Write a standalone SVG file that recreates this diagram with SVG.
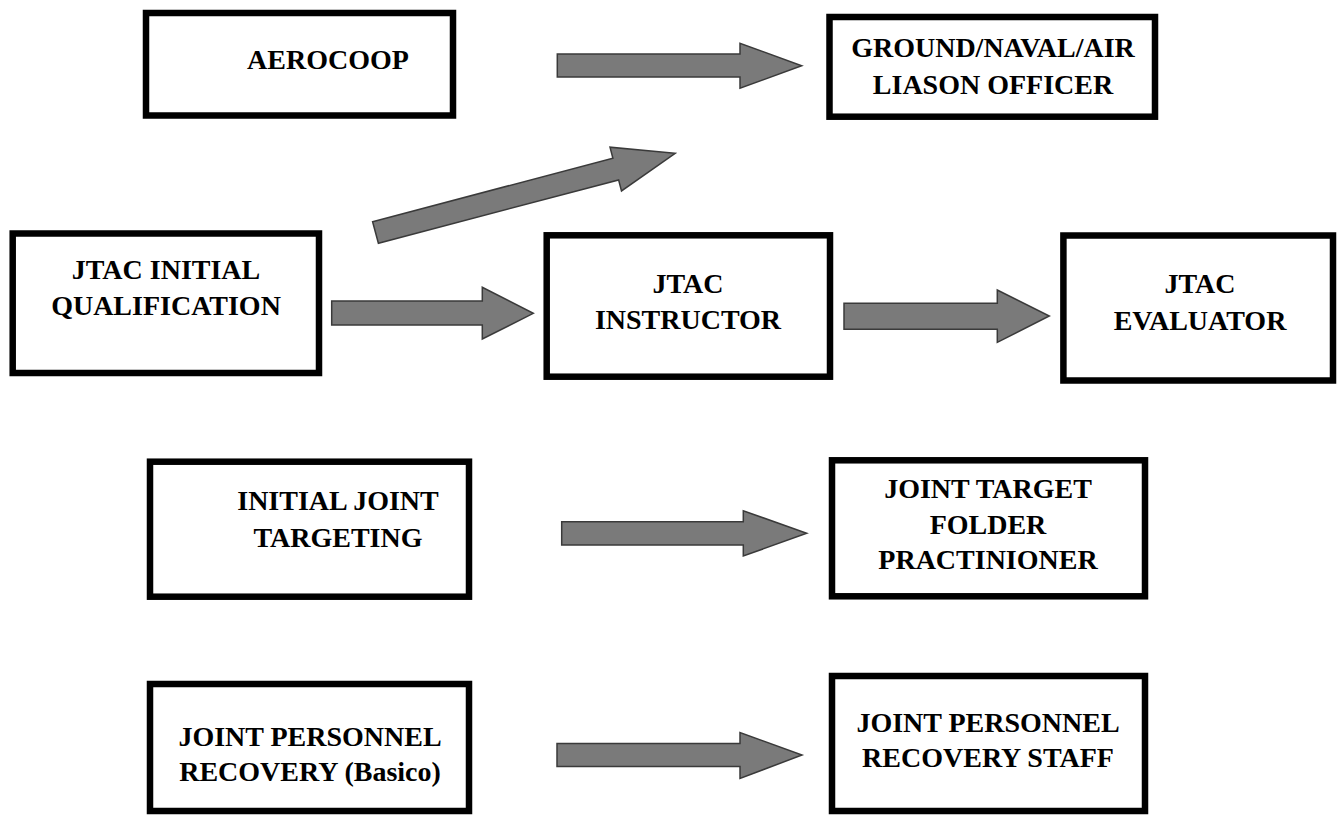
<svg xmlns="http://www.w3.org/2000/svg" width="1337" height="816" viewBox="0 0 1337 816">
<style>
.box{fill:#ffffff;stroke:#000000;stroke-width:6.5}
.arr{fill:#7a7a7a;stroke:#3a3a3a;stroke-width:1.5;stroke-linejoin:miter}
.t{font-family:"Liberation Serif","Times New Roman",serif;font-weight:bold;font-size:28px;fill:#000000;text-anchor:middle}
</style>
<rect width="1337" height="816" fill="#ffffff"/>
<g id="connectors">
<polygon class="arr" points="557.3,54 740,54 740,43.3 801.7,65.7 740,88.3 740,77 557.3,77"/>
<polygon class="arr" points="372.6,221.7 612.9,158.2 610,147.2 675.2,153.3 621.5,190.9 618.6,179.9 378.4,243.3"/>
<polygon class="arr" points="331.7,301 482.3,301 482.3,287.3 533.3,313.3 482.3,339 482.3,325 331.7,325"/>
<polygon class="arr" points="844,303.3 997.3,303.3 997.3,290 1049.3,316 997.3,342.3 997.3,329.3 844,329.3"/>
<polygon class="arr" points="561.7,521.7 743.3,521.7 743.3,510.7 806.7,533.3 743.3,556 743.3,545 561.7,545"/>
<polygon class="arr" points="557,743.5 740,743.5 740,732.5 802,755 740,778.5 740,766.5 557,766.5"/>
</g>
<g id="aerocoop">
<rect class="box" x="146" y="13" width="307" height="102.5"/>
<text class="t" x="328" y="69">AEROCOOP</text>
</g>
<g id="liaison">
<rect class="box" x="829.5" y="17" width="325.5" height="99.7"/>
<text class="t" x="993" y="57">GROUND/NAVAL/AIR</text>
<text class="t" x="993" y="94">LIASON OFFICER</text>
</g>
<g id="jtac-initial">
<rect class="box" x="12.7" y="233.5" width="306.3" height="139.5"/>
<text class="t" x="166" y="279">JTAC INITIAL</text>
<text class="t" x="166" y="315">QUALIFICATION</text>
</g>
<g id="jtac-instructor">
<rect class="box" x="546.7" y="235.3" width="283.3" height="141.4"/>
<text class="t" x="688" y="293">JTAC</text>
<text class="t" x="688" y="329">INSTRUCTOR</text>
</g>
<g id="jtac-evaluator">
<rect class="box" x="1063.4" y="235.5" width="269.6" height="145"/>
<text class="t" x="1200" y="293">JTAC</text>
<text class="t" x="1200" y="330">EVALUATOR</text>
</g>
<g id="initial-joint-targeting">
<rect class="box" x="150" y="461.7" width="319" height="135"/>
<text class="t" x="338" y="510">INITIAL JOINT</text>
<text class="t" x="338" y="547">TARGETING</text>
</g>
<g id="joint-target-folder">
<rect class="box" x="832" y="460.3" width="313" height="136"/>
<text class="t" x="988" y="498">JOINT TARGET</text>
<text class="t" x="988" y="534">FOLDER</text>
<text class="t" x="988" y="569">PRACTINIONER</text>
</g>
<g id="jpr-basico">
<rect class="box" x="150" y="684" width="319" height="127"/>
<text class="t" x="310" y="746">JOINT PERSONNEL</text>
<text class="t" x="310" y="781">RECOVERY (Basico)</text>
</g>
<g id="jpr-staff">
<rect class="box" x="832" y="676" width="313" height="135"/>
<text class="t" x="988" y="732">JOINT PERSONNEL</text>
<text class="t" x="988" y="767">RECOVERY STAFF</text>
</g>
</svg>
